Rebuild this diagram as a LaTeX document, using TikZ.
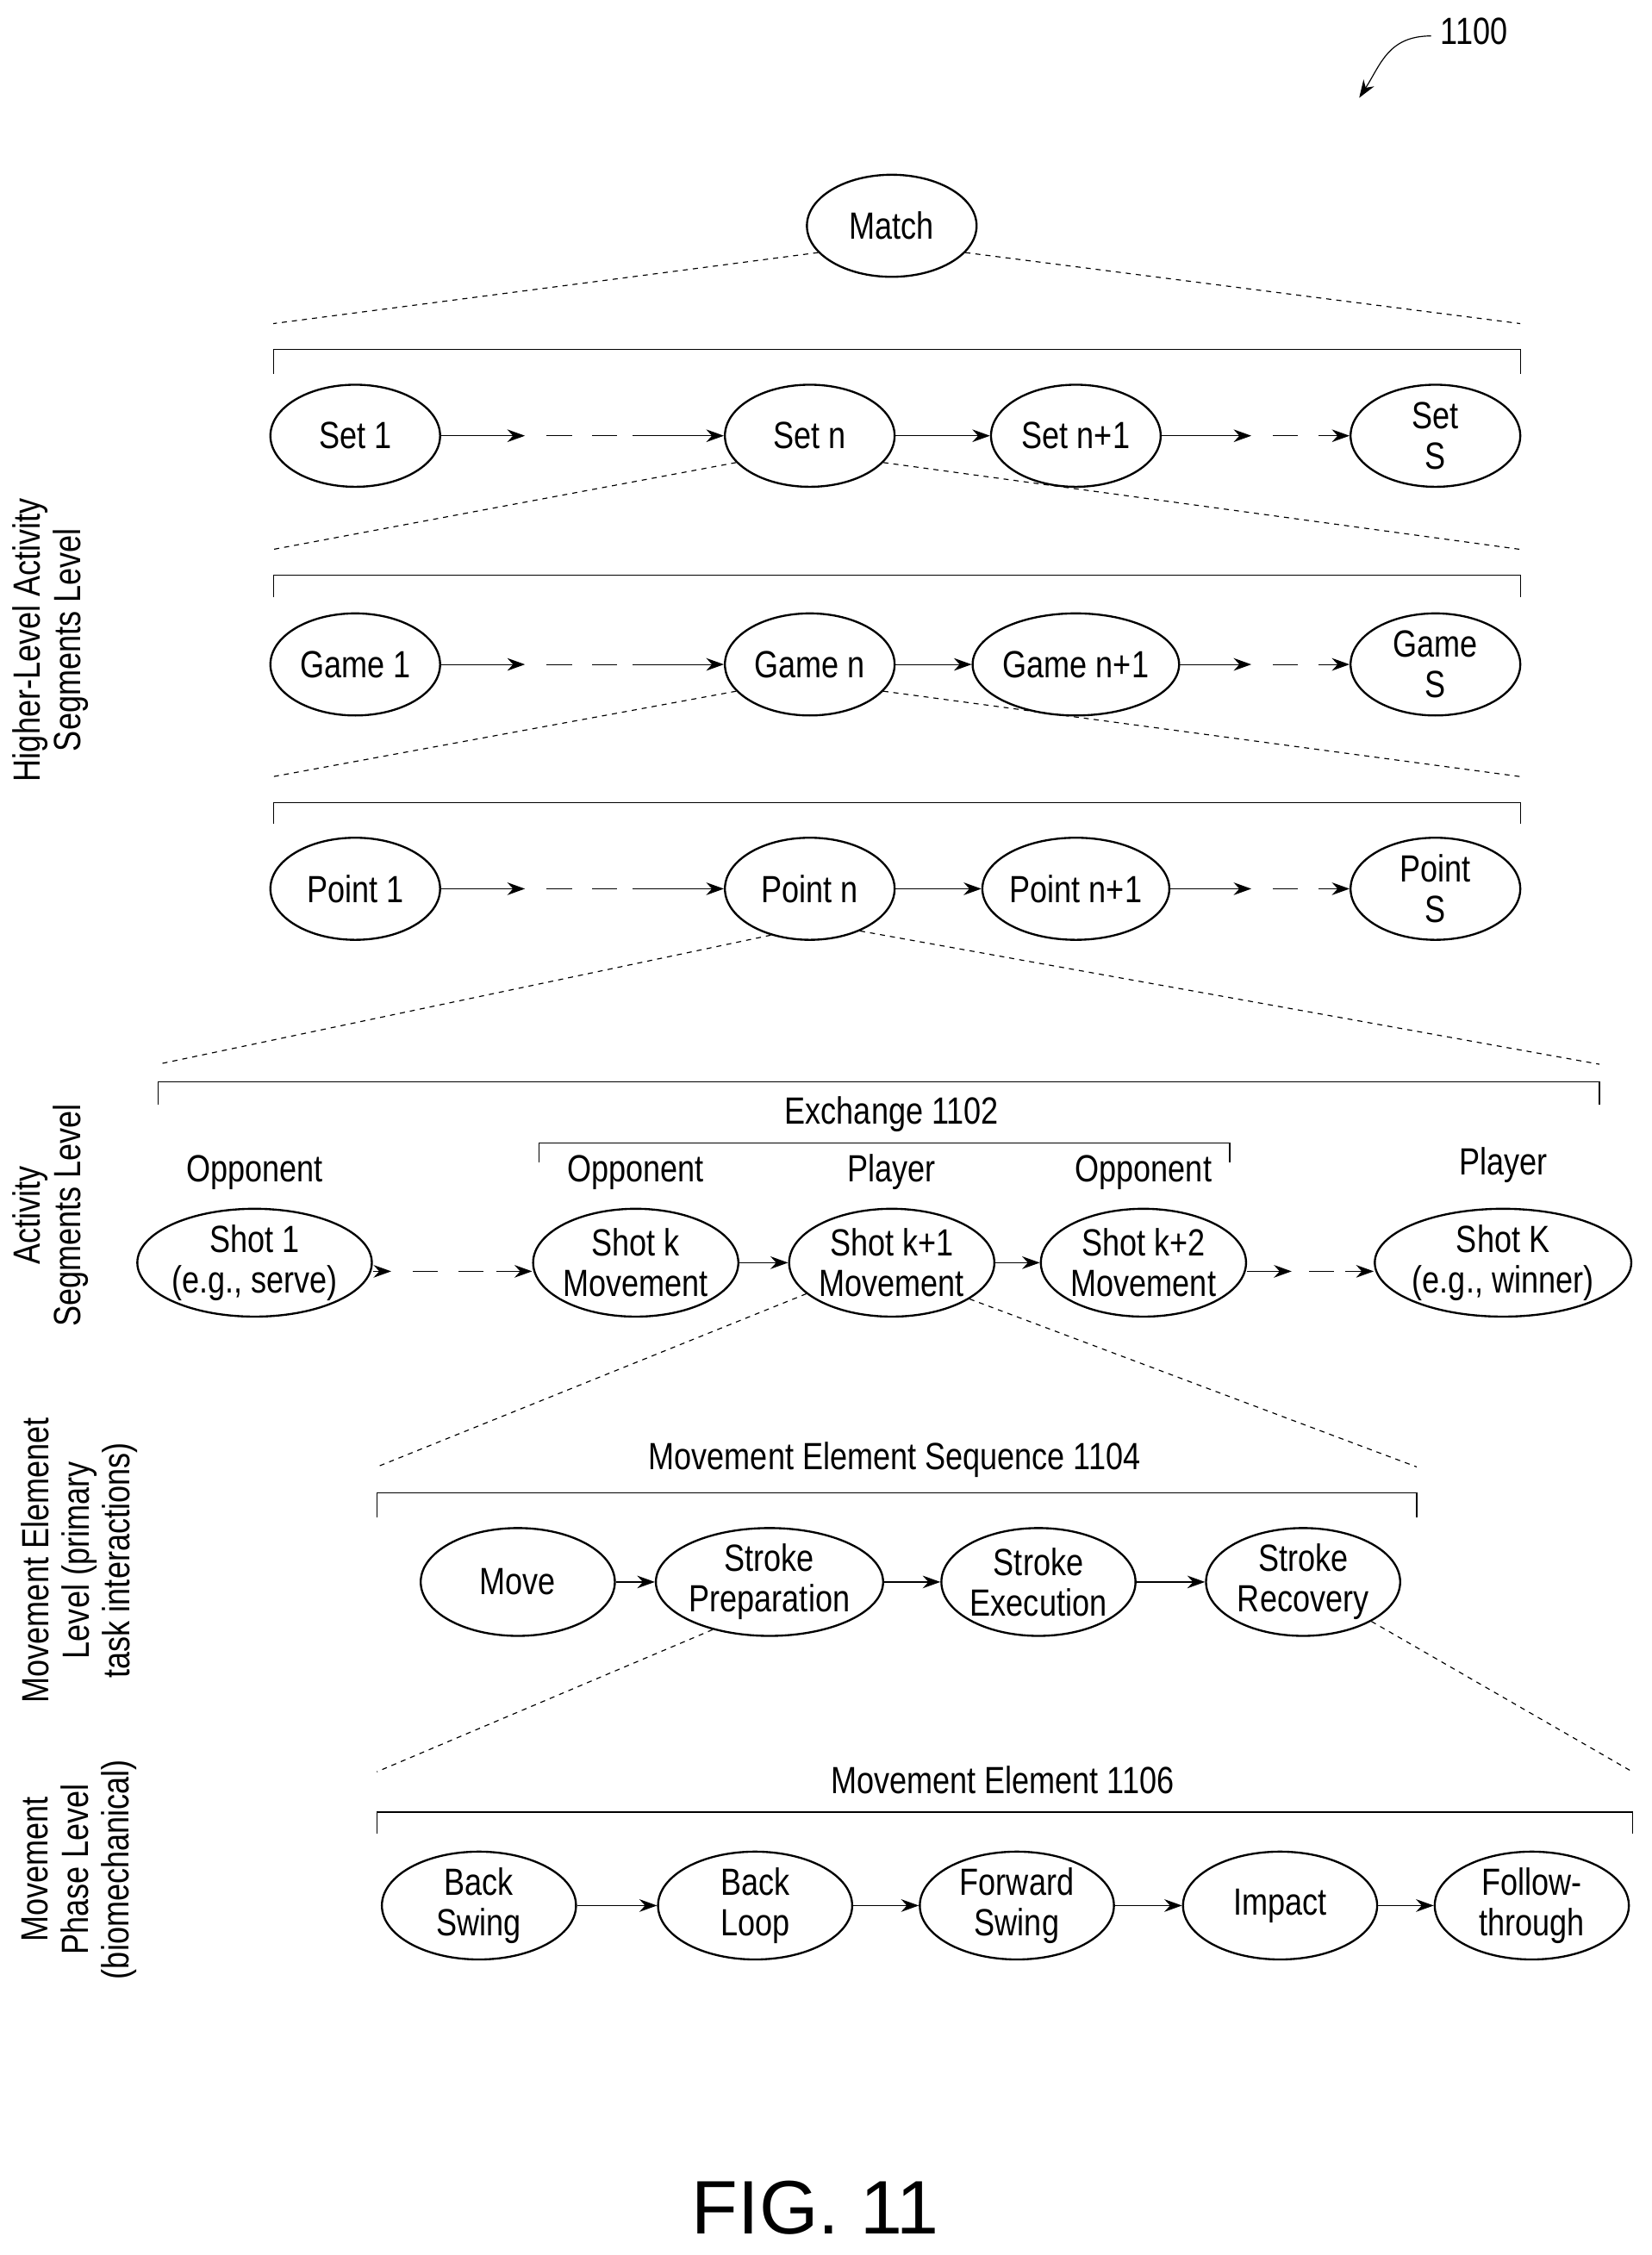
\documentclass[tikz,border=0pt]{standalone}
\usepackage{fontspec}
\setmainfont[FakeStretch=0.82]{Liberation Sans}
\newfontfamily\figfont{Liberation Sans}
\usetikzlibrary{arrows.meta,shapes.geometric}
\tikzstyle{diagram}=[x=0.02cm, y=-0.02cm, font=\fontsize{15}{16}\selectfont]
\tikzstyle{seg}=[ellipse, draw, thick, inner sep=0pt, minimum width=2.36cm, minimum height=1.42cm, align=center]
\tikzstyle{wseg}=[ellipse, draw, thick, inner sep=0pt, minimum width=2.7cm, minimum height=1.5cm, align=center]
\tikzstyle{edge}=[thin, -{Stealth[length=7pt,width=5pt]}]
\tikzstyle{gap}=[thin, dash pattern=on 10pt off 8pt]
\tikzstyle{zoomline}=[thin, dash pattern=on 2pt off 2pt]
\tikzstyle{bracket}=[thin]
\tikzstyle{side}=[rotate=90, align=center]
\tikzstyle{who}=[]
\begin{document}
\begin{tikzpicture}[diagram]
	\useasboundingbox (0,0) rectangle (1148,1568);
	\node (ref) at (1025,22) {1100};
	\draw[edge] (995,25) .. controls (965,25) and (960,45) .. (945,68);
	\draw (620,157) node[seg] (match) {Match};
	\draw[zoomline] (match.200) -- (190,225);
	\draw[zoomline] (match.340) -- (1057,225);
	%% sets
	\draw[bracket] (190,260) -- (190,243) -- (1057,243) -- (1057,260);
	\draw (247,303) node[seg] (set1) {Set 1};
	\draw (563,303) node[seg] (setn) {Set n};
	\draw (748,303) node[seg] (setn1) {Set n+1};
	\draw (998,303) node[seg] (setS) {Set\\S};
	\coordinate (a1) at (365,303); \coordinate (a2) at (440,303);
	\coordinate (a3) at (870,303); \coordinate (a4) at (880,303);
	\draw[edge] (set1) -- (a1);
	\draw[gap] (a1) ++(15,0) -- (a2);
	\draw[edge] (a2) -- (setn);
	\draw[edge] (setn) -- (setn1);
	\draw[edge] (setn1) -- (a3);
	\draw[gap] (a3) ++(15,0) -- ++(50,0) coordinate (a4);
	\draw[edge] (a4) -- (setS);
	\draw[zoomline] (setn.200) -- (190,382);
	\draw[zoomline] (setn.340) -- (1057,382);
	%% games
	\draw[bracket] (190,415) -- (190,400) -- (1057,400) -- (1057,415);
	\draw (247,462) node[seg] (game1) {Game 1};
	\draw (563,462) node[seg] (gamen) {Game n};
	\draw (748,462) node[seg] (gamen1) {Game n+1};
	\draw (998,462) node[seg] (gameS) {Game\\S};
	\coordinate (b1) at (365,462); \coordinate (b2) at (440,462);
	\coordinate (b3) at (870,462);
	\draw[edge] (game1) -- (b1);
	\draw[gap] (b1) ++(15,0) -- (b2);
	\draw[edge] (b2) -- (gamen);
	\draw[edge] (gamen) -- (gamen1);
	\draw[edge] (gamen1) -- (b3);
	\draw[gap] (b3) ++(15,0) -- ++(50,0) coordinate (b4);
	\draw[edge] (b4) -- (gameS);
	\draw[zoomline] (gamen.200) -- (190,540);
	\draw[zoomline] (gamen.340) -- (1057,540);
	%% points
	\draw[bracket] (190,573) -- (190,558) -- (1057,558) -- (1057,573);
	\draw (247,618) node[seg] (point1) {Point 1};
	\draw (563,618) node[seg] (pointn) {Point n};
	\draw (748,618) node[seg] (pointn1) {Point n+1};
	\draw (998,618) node[seg] (pointS) {Point\\S};
	\coordinate (c1) at (365,618); \coordinate (c2) at (440,618);
	\coordinate (c3) at (870,618);
	\draw[edge] (point1) -- (c1);
	\draw[gap] (c1) ++(15,0) -- (c2);
	\draw[edge] (c2) -- (pointn);
	\draw[edge] (pointn) -- (pointn1);
	\draw[edge] (pointn1) -- (c3);
	\draw[gap] (c3) ++(15,0) -- ++(50,0) coordinate (c4);
	\draw[edge] (c4) -- (pointS);
	\draw[zoomline] (pointn.230) -- (110,740);
	\draw[zoomline] (pointn.320) -- (1112,740);
	%% shots
	\draw[bracket] (110,768) -- (110,752) -- (1112,752) -- (1112,768);
	\node (exch) at (620,775) {Exchange 1102};
	\draw[bracket] (375,808) -- (375,795) -- (855,795) -- (855,808);
	\draw (177,878) node[wseg] (shot1) {Shot 1\\(e.g., serve)};
	\draw (442,878) node[wseg] (shotk) {Shot k\\Movement};
	\draw (620,878) node[wseg] (shotk1) {Shot k+1\\Movement};
	\draw (795,878) node[wseg] (shotk2) {Shot k+2\\Movement};
	\draw (1045,878) node[wseg] (shotK) {Shot K\\(e.g., winner)};
	\node[who] at (177,815) {Opponent};
	\node[who] at (442,815) {Opponent};
	\node[who] at (620,815) {Player};
	\node[who] at (795,815) {Opponent};
	\node[who] at (1045,810) {Player};
	\coordinate (d1) at (272,884); \coordinate (d2) at (345,884);
	\coordinate (d3) at (898,884); \coordinate (d4) at (935,884);
	\draw[edge] (shot1.east |- d1) -- (d1);
	\draw[gap] (d1) ++(15,0) -- (d2);
	\draw[edge] (d2) -- (shotk.west |- d2);
	\draw[edge] (shotk) -- (shotk1);
	\draw[edge] (shotk1) -- (shotk2);
	\draw[edge] (shotk2.east |- d3) -- (d3);
	\draw[gap] (d3) ++(12,0) -- (d4);
	\draw[edge] (d4) -- (shotK.west |- d4);
	\draw[zoomline] (shotk1.200) -- (262,1020);
	\draw[zoomline] (shotk1.335) -- (985,1020);
	%% movement elements
	\node (seq) at (622,1015) {Movement Element Sequence 1104};
	\draw[bracket] (262,1055) -- (262,1038) -- (985,1038) -- (985,1055);
	\draw (360,1100) node[wseg] (move) {Move};
	\draw (535,1100) node[wseg] (prep) {Stroke\\Preparation};
	\draw (722,1100) node[wseg] (exec) {Stroke\\Execution};
	\draw (906,1100) node[wseg] (recov) {Stroke\\Recovery};
	\draw[edge] (move) -- (prep);
	\draw[edge] (prep) -- (exec);
	\draw[edge] (exec) -- (recov);
	\draw[zoomline] (prep.220) -- (262,1232);
	\draw[zoomline] (recov.330) -- (1135,1232);
	%% phases
	\node (elem) at (697,1238) {Movement Element 1106};
	\draw[bracket] (262,1275) -- (262,1260) -- (1135,1260) -- (1135,1275);
	\draw (333,1325) node[wseg] (back) {Back\\Swing};
	\draw (525,1325) node[wseg] (loop) {Back\\Loop};
	\draw (707,1325) node[wseg] (fwd) {Forward\\Swing};
	\draw (890,1325) node[wseg] (impact) {Impact};
	\draw (1065,1325) node[wseg] (follow) {Follow-\\through};
	\draw[edge] (back) -- (loop);
	\draw[edge] (loop) -- (fwd);
	\draw[edge] (fwd) -- (impact);
	\draw[edge] (impact) -- (follow);
	%% side labels
	\node[side] (l1) at (35,445) {Higher-Level Activity\\Segments Level};
	\node[side] (l2) at (35,845) {Activity\\Segments Level};
	\node[side] (l3) at (55,1085) {Movement Elemenet\\Level (primary\\task interactions)};
	\node[side] (l4) at (55,1300) {Movement\\Phase Level\\(biomechanical)};
	\node[font=\figfont\fontsize{30}{32}\selectfont] (fig) at (567,1535) {FIG. 11};
\end{tikzpicture}
\end{document}
